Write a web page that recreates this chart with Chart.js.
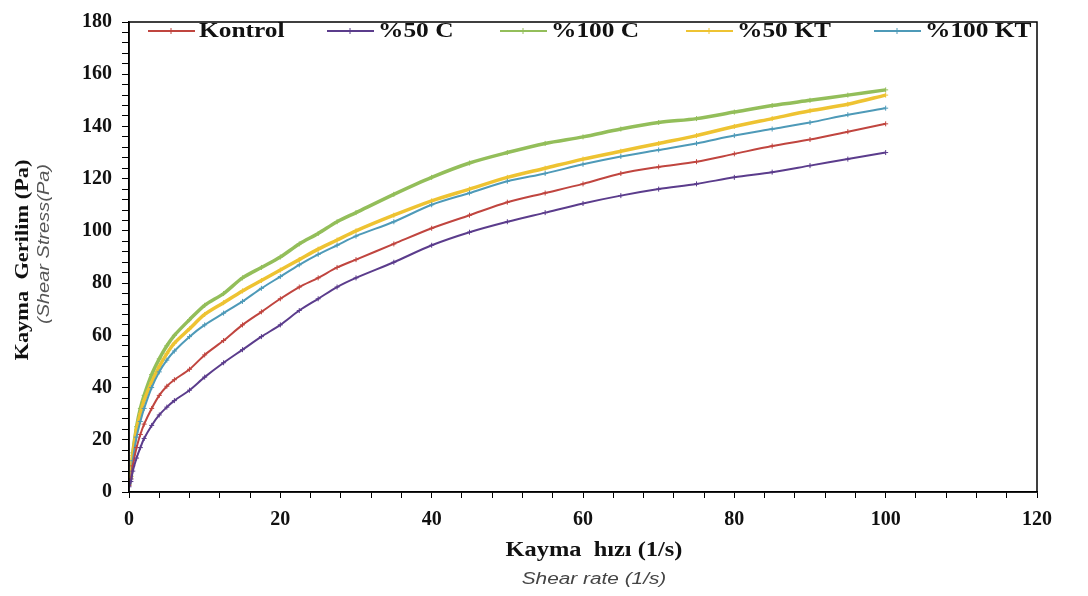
<!DOCTYPE html>
<html>
<head>
<meta charset="utf-8">
<script src="https://cdn.jsdelivr.net/npm/chart.js@4/dist/chart.umd.min.js"></script>
<style>
  html, body { margin: 0; padding: 0; background: #fff; }
  #wrap { width: 1088px; height: 596px; }
</style>
</head>
<body>
<div id="wrap"><canvas id="chart" width="1088" height="596"></canvas></div>
<script>
// Kayma hızı (1/s)
const shearRate = [0, 0.25, 0.5, 1, 1.5, 2, 3, 4, 5, 6, 8, 10, 12.5, 15, 17.5, 20, 22.5, 25, 27.5, 30,
    35, 40, 45, 50, 55, 60, 65, 70, 75, 80, 85, 90, 95, 100];

// Kayma gerilimi (Pa)
const kontrol = [2.5, 5, 10, 17, 22, 26, 32, 37, 40.5, 43, 47, 52.5, 58, 64, 69, 74, 78.5, 82, 86, 89,
    95, 101, 106, 111, 114.5, 118, 122, 124.5, 126.5, 129.5, 132.5, 135, 138, 141];
const c50 = [2, 4, 8, 13, 17, 20.5, 25.5, 29.5, 32.5, 35, 39, 44, 49.5, 54.5, 59.5, 64, 69.5, 74, 78.5, 82,
    88, 94.5, 99.5, 103.5, 107, 110.5, 113.5, 116, 118, 120.5, 122.5, 125, 127.5, 130];
const c100 = [3, 6, 15, 25, 32, 37, 45, 51, 56, 60, 66, 71.5, 76, 82, 86, 90, 95, 99, 103.5, 107,
    114, 120.5, 126, 130, 133.5, 136, 139, 141.5, 143, 145.5, 148, 150, 152, 154];
const kt50 = [3, 6, 14, 24, 30, 35, 42, 48, 53, 57, 62.5, 68, 72.5, 77, 81, 85, 89, 93, 96.5, 100,
    106, 111.5, 116, 120.5, 124, 127.5, 130.5, 133.5, 136.5, 140, 143, 146, 148.5, 152];
const kt100 = [3, 5, 12, 21, 27, 32, 40, 46, 50.5, 54, 59.5, 64, 68.5, 73, 78, 82.5, 87, 91, 94.5, 98,
    103.5, 110, 114.5, 119, 122, 125.5, 128.5, 131, 133.5, 136.5, 139, 141.5, 144.5, 147];

const seriesNames = ['Kontrol', '%50 C', '%100 C', '%50 KT', '%100 KT'];
const seriesValues = [kontrol, c50, c100, kt50, kt100];
const seriesColors = ['#C0453F', '#5B3C8C', '#93BE5A', '#EEC332', '#4E9AB8'];
const seriesWidths = [2, 2, 3.5, 3.5, 2];

function toPoints(values) {
    return values.map((v, i) => ({ x: shearRate[i], y: v }));
}

// yeşil ve sarı altta kalsın
const drawOrder = [2, 3, 4, 0, 1];

const datasets = seriesNames.map((name, i) => ({
    label: name,
    data: toPoints(seriesValues[i]),
    borderColor: seriesColors[i],
    backgroundColor: seriesColors[i],
    borderWidth: seriesWidths[i],
    pointStyle: 'cross',
    pointRadius: 2.5,
    pointBorderWidth: 1,
    tension: 0.3,
    order: 10 - drawOrder.indexOf(i)
}));

const serif = '"Liberation Serif", "Times New Roman", serif';
const sans = '"Liberation Sans", Arial, sans-serif';

// yazıyı yatayda biraz genişleterek çiz
function wideText(ctx, text, x, y, font, color, sx, align) {
    ctx.save();
    ctx.translate(x, y);
    ctx.scale(sx, 1);
    ctx.font = font;
    ctx.fillStyle = color;
    ctx.textAlign = align || 'center';
    ctx.textBaseline = 'middle';
    ctx.fillText(text, 0, 0);
    ctx.restore();
}

// Lejant, çerçeve ve eksen başlıkları
const extrasPlugin = {
    id: 'extras',
    afterDraw(chart) {
        const ctx = chart.ctx;
        const a = chart.chartArea;
        ctx.save();

        // çerçeve
        ctx.strokeStyle = '#000';
        ctx.lineWidth = 1.5;
        ctx.strokeRect(a.left, a.top, a.right - a.left, a.bottom - a.top);

        // lejant
        const legendX = [148, 327, 500, 686, 874];
        const ly = 31;
        seriesNames.forEach((name, i) => {
            const x = legendX[i];
            ctx.strokeStyle = seriesColors[i];
            ctx.lineWidth = 2;
            ctx.beginPath();
            ctx.moveTo(x, ly);
            ctx.lineTo(x + 47, ly);
            ctx.stroke();
            ctx.lineWidth = 1;
            ctx.beginPath();
            ctx.moveTo(x + 23, ly - 3);
            ctx.lineTo(x + 23, ly + 3);
            ctx.stroke();
            wideText(ctx, name, x + 51, ly + 1, 'bold 20px ' + serif, '#111', 1.27, 'left');
        });

        // y ekseni başlığı
        ctx.save();
        ctx.translate(23, 260);
        ctx.rotate(-Math.PI / 2);
        wideText(ctx, 'Kayma  Gerilim (Pa)', 0, 0, 'bold 19px ' + serif, '#111', 1.18);
        ctx.restore();

        ctx.save();
        ctx.translate(45, 244);
        ctx.rotate(-Math.PI / 2);
        wideText(ctx, '(Shear Stress(Pa)', 0, 0, 'italic 16px ' + sans, '#555', 1.25);
        ctx.restore();

        // x ekseni başlığı
        wideText(ctx, 'Kayma  hızı (1/s)', 594, 551, 'bold 20px ' + serif, '#111', 1.22);
        wideText(ctx, 'Shear rate (1/s)', 594, 580, 'italic 16px ' + sans, '#444', 1.3);

        ctx.restore();
    }
};

const tickFont = { family: serif, size: 20, weight: 'bold' };

new Chart(document.getElementById('chart').getContext('2d'), {
    type: 'line',
    data: { datasets: datasets },
    options: {
        responsive: false,
        animation: false,
        layout: { padding: { top: 15, right: 51, left: 0, bottom: 0 } },
        plugins: {
            legend: { display: false },
            tooltip: { enabled: false }
        },
        scales: {
            x: {
                type: 'linear',
                min: 0,
                max: 120,
                afterFit: s => { s.height = 104; },
                ticks: {
                    stepSize: 4,
                    autoSkip: false,
                    maxRotation: 0,
                    padding: 10,
                    color: '#111',
                    font: tickFont,
                    callback: v => (v % 20 === 0 ? v : '')
                },
                grid: { drawOnChartArea: false, drawTicks: true, tickLength: 6, color: '#000' },
                border: { display: true, color: '#000', width: 1.5 }
            },
            y: {
                min: 0,
                max: 180,
                afterFit: s => { s.width = 129; },
                ticks: {
                    stepSize: 4,
                    autoSkip: false,
                    padding: 10,
                    color: '#111',
                    font: tickFont,
                    callback: v => (v % 20 === 0 ? v : '')
                },
                grid: { drawOnChartArea: false, drawTicks: true, tickLength: 7, color: '#000' },
                border: { display: true, color: '#000', width: 1.5 }
            }
        }
    },
    plugins: [extrasPlugin]
});
</script>
</body>
</html>
